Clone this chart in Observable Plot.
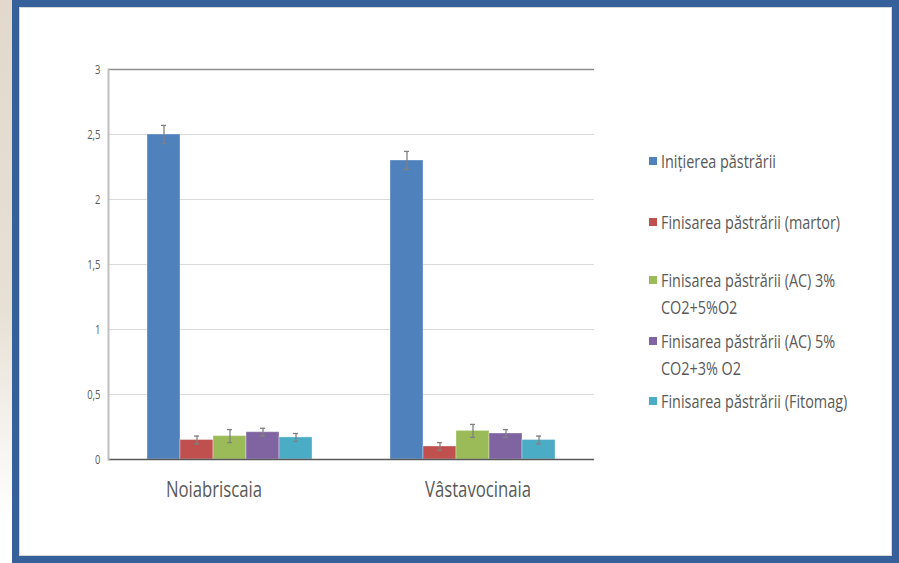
<!DOCTYPE html>
<html><head><meta charset="utf-8">
<script src="https://cdn.jsdelivr.net/npm/d3@7"></script>
<script src="https://cdn.jsdelivr.net/npm/@observablehq/plot@0.6"></script>
<style>
body{margin:0;width:899px;height:563px;overflow:hidden;position:relative;background:#fff;font-family:"Open Sans",sans-serif;}
#strip{position:absolute;left:0;top:0;width:13px;height:563px;background:linear-gradient(#e2d9cc,#e7e0d5 55%,#fff 92%);}
#frame{position:absolute;left:12px;top:-10px;width:900px;height:573px;background:#36609a;}
#inner{position:absolute;left:19px;top:7px;width:873px;height:549px;background:#fff;box-shadow:inset 0 0 0 1px #d3d7dc;}
#chart{position:absolute;left:0;top:0;}
.leg{position:absolute;left:649px;font-size:18px;line-height:27px;color:#595959;white-space:nowrap;}
.leg .sw{position:absolute;left:0;top:9px;width:8px;height:8px;}
.leg .t{margin-left:12px;display:inline-block;transform:scaleX(0.8);transform-origin:left center;}
</style></head>
<body>
<div id="strip"></div>
<div id="frame"></div>
<div id="inner"></div>
<div id="chart"></div>
<div id="legend"></div>
<script>
const categories = ["Noiabriscaia", "Vâstavocinaia"];
const series = [
  "Inițierea păstrării",
  "Finisarea păstrării (martor)",
  "Finisarea păstrării (AC) 3% CO2+5%O2",
  "Finisarea păstrării (AC) 5% CO2+3% O2",
  "Finisarea păstrării (Fitomag)"
];
const legendLines = [
  ["Inițierea păstrării"],
  ["Finisarea păstrării (martor)"],
  ["Finisarea păstrării (AC) 3%", "CO2+5%O2"],
  ["Finisarea păstrării (AC) 5%", "CO2+3% O2"],
  ["Finisarea păstrării (Fitomag)"]
];
const colors = ["#4f81bd", "#c0504d", "#9bbb59", "#8064a2", "#4bacc6"];
const valuesNoiabriscaia = [2.5, 0.15, 0.18, 0.21, 0.17];
const errorsNoiabriscaia = [0.07, 0.03, 0.05, 0.03, 0.03];
const valuesVastavocinaia = [2.3, 0.10, 0.22, 0.20, 0.15];
const errorsVastavocinaia = [0.07, 0.03, 0.05, 0.03, 0.03];
const yTicks = [0, 0.5, 1, 1.5, 2, 2.5, 3];

const allValues = [valuesNoiabriscaia, valuesVastavocinaia];
const allErrors = [errorsNoiabriscaia, errorsVastavocinaia];
const data = [];
categories.forEach((c, i) => series.forEach((s, j) => {
  data.push({cat: c, series: s, value: allValues[i][j], err: allErrors[i][j]});
}));

const catLabelStyle = {fx: d => d, text: d => d, frameAnchor: "bottom", lineAnchor: "top", dy: 22, fontSize: 22, fill: "#595959", ariaLabel: "fx-axis tick label"};

const chart = Plot.plot({
  width: 620, height: 520,
  marginLeft: 108, marginRight: 26, marginTop: 69, marginBottom: 61,
  style: {background: "transparent", fontFamily: "'Open Sans', sans-serif", color: "#595959"},
  fx: {domain: categories, padding: 0, label: null, axis: null},
  x: {domain: series, paddingInner: 0, paddingOuter: 1.09, axis: null},
  y: {domain: [0, 3], label: null},
  color: {domain: series, range: colors},
  marks: [
    Plot.gridY(yTicks, {stroke: "#d9d9d9", strokeOpacity: 1}),
    Plot.barY(data, {fx: "cat", x: "series", y: "value", fill: "series", stroke: "#ffffff", strokeOpacity: 0.35, strokeWidth: 1}),
    Plot.ruleX(data, {fx: "cat", x: "series", y1: d => d.value - d.err, y2: d => d.value + d.err, stroke: "#808080", strokeWidth: 1.3}),
    Plot.tickY(data, {fx: "cat", x: "series", y: d => d.value + d.err, insetLeft: 14, insetRight: 14, stroke: "#808080", strokeWidth: 1.3}),
    Plot.tickY(data, {fx: "cat", x: "series", y: d => d.value - d.err, insetLeft: 14, insetRight: 14, stroke: "#808080", strokeWidth: 1.3}),
    Plot.ruleY([0], {stroke: "#595959", strokeWidth: 1.5}),
    Plot.ruleY([3], {stroke: "#8c8c8c", strokeWidth: 1.5}),
    Plot.frame({anchor: "left", facet: "super", stroke: "#bfbfbf", strokeWidth: 2}),
    Plot.axisY(yTicks, {tickSize: 0, tickPadding: 8, tickFormat: d => String(d).replace(".", ","), fontSize: 12.5, fill: "#595959", label: null, ariaLabel: "y-axis"}),
    Plot.text([categories[0]], {...catLabelStyle, dx: -16}),
    Plot.text([categories[1]], {...catLabelStyle, dx: 5})
  ]
});
document.getElementById("chart").appendChild(chart);

// condense the axis text to mimic the narrow original typeface
chart.querySelectorAll("text").forEach(t => {
  const w = t.getComputedTextLength();
  if (w > 0) {
    t.setAttribute("textLength", (w * 0.76).toFixed(1));
    t.setAttribute("lengthAdjust", "spacingAndGlyphs");
  }
});

const legendCenters = [161, 222, 280, 340.5, 400.5];
const leg = document.getElementById("legend");
series.forEach((s, i) => {
  const d = document.createElement("div");
  d.className = "leg";
  d.style.top = (legendCenters[i] + 7 - 19.7) + "px";
  const sw = document.createElement("div");
  sw.className = "sw";
  sw.style.background = colors[i];
  d.appendChild(sw);
  const t = document.createElement("span");
  t.className = "t";
  legendLines[i].forEach((line, k) => {
    if (k > 0) t.appendChild(document.createElement("br"));
    t.appendChild(document.createTextNode(line));
  });
  d.appendChild(t);
  leg.appendChild(d);
});
</script>
</body></html>
